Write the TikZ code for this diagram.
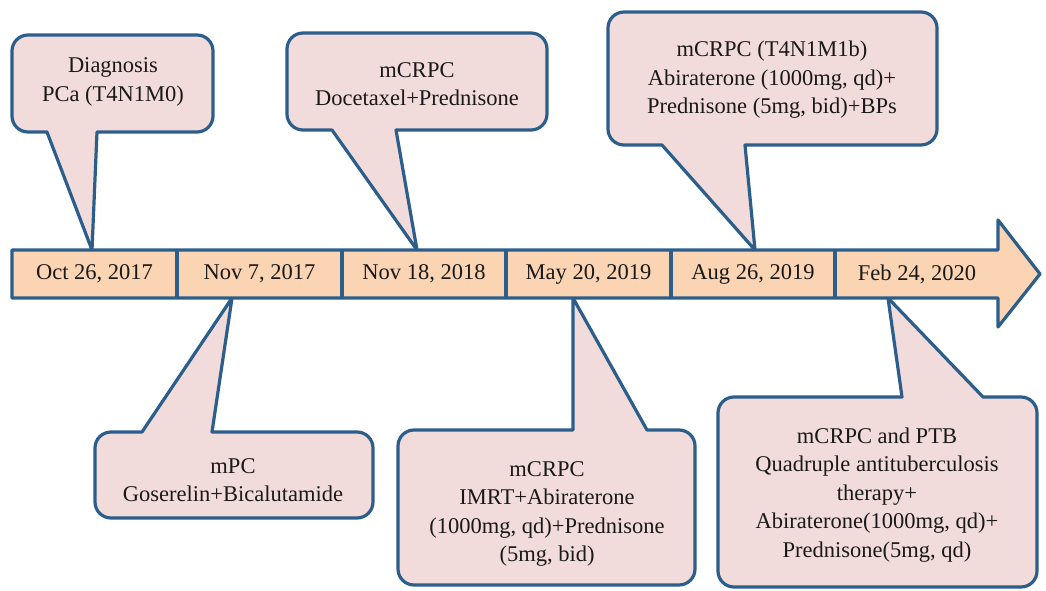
\documentclass[tikz,border=0pt]{standalone}
\usepackage{fontspec}
\setmainfont{Liberation Serif}
\definecolor{edge}{RGB}{44,94,140}
\definecolor{barfill}{RGB}{251,212,180}
\definecolor{callfill}{RGB}{242,220,219}
\definecolor{ink}{RGB}{25,25,25}
\begin{document}
\begin{tikzpicture}[x=1pt,y=-1pt,
  callout/.style={draw=edge,fill=callfill,line width=3.2pt,line join=round},
  timebar/.style={draw=edge,fill=barfill,line width=3.2pt,line join=round},
  divider/.style={draw=edge,line width=3.2pt},
  txt/.style={text=ink,align=center,font=\fontsize{22.5}{28.5}\selectfont,inner sep=0pt},
  datetxt/.style={text=ink,font=\fontsize{22.5}{27}\selectfont,inner sep=0pt}]
\useasboundingbox[fill=white] (0,0) rectangle (1046,591);

% ---- top callouts (pointer at bottom)
% 1 Diagnosis: L=12 T=35 R=213 B=132
\draw[callout] (28,35) -- (197,35) arc[start angle=90,end angle=0,radius=16pt] -- (213,116) arc[start angle=0,end angle=-90,radius=16pt] -- (97,132) -- (92,250) -- (47,132) -- (28,132) arc[start angle=270,end angle=180,radius=16pt] -- (12,51) arc[start angle=180,end angle=90,radius=16pt] -- cycle;
% 2 Docetaxel: L=287 T=33 R=547 B=130
\draw[callout] (303,33) -- (531,33) arc[start angle=90,end angle=0,radius=16pt] -- (547,114) arc[start angle=0,end angle=-90,radius=16pt] -- (396,130) -- (417,250) -- (332,130) -- (303,130) arc[start angle=270,end angle=180,radius=16pt] -- (287,49) arc[start angle=180,end angle=90,radius=16pt] -- cycle;
% 3 T4N1M1b: L=608 T=12 R=937 B=145
\draw[callout] (624,12) -- (921,12) arc[start angle=90,end angle=0,radius=16pt] -- (937,129) arc[start angle=0,end angle=-90,radius=16pt] -- (745,145) -- (755,250) -- (662,145) -- (624,145) arc[start angle=270,end angle=180,radius=16pt] -- (608,28) arc[start angle=180,end angle=90,radius=16pt] -- cycle;

% ---- bottom callouts (pointer at top)
% 4 mPC: L=95 T=432 R=373 B=518
\draw[callout] (111,432) -- (142,432) -- (232,298) -- (212,432) -- (357,432) arc[start angle=90,end angle=0,radius=16pt] -- (373,502) arc[start angle=0,end angle=-90,radius=16pt] -- (111,518) arc[start angle=270,end angle=180,radius=16pt] -- (95,448) arc[start angle=180,end angle=90,radius=16pt] -- cycle;
% 5 IMRT: L=398 T=430 R=695 B=585
\draw[callout] (414,430) -- (573,430) -- (573,298) -- (647,430) -- (679,430) arc[start angle=90,end angle=0,radius=16pt] -- (695,569) arc[start angle=0,end angle=-90,radius=16pt] -- (414,585) arc[start angle=270,end angle=180,radius=16pt] -- (398,446) arc[start angle=180,end angle=90,radius=16pt] -- cycle;
% 6 PTB: L=718 T=397 R=1037 B=587
\draw[callout] (734,397) -- (902,397) -- (888,298) -- (983,397) -- (1021,397) arc[start angle=90,end angle=0,radius=16pt] -- (1037,571) arc[start angle=0,end angle=-90,radius=16pt] -- (734,587) arc[start angle=270,end angle=180,radius=16pt] -- (718,413) arc[start angle=180,end angle=90,radius=16pt] -- cycle;

% ---- timeline bar with arrow head
\draw[timebar] (12,250) -- (998,250) -- (998,220) -- (1040,274) -- (998,327) -- (998,298) -- (12,298) -- cycle;
\foreach \x in {177,342,506,671,835} \draw[divider] (\x,250) -- (\x,298);

\node[datetxt] (d1) at (94.5,274) {Oct 26, 2017};
\node[datetxt] (d2) at (259.5,274) {Nov 7, 2017};
\node[datetxt] (d3) at (424,274) {Nov 18, 2018};
\node[datetxt] (d4) at (588.5,274) {May 20, 2019};
\node[datetxt] (d5) at (753,274) {Aug 26, 2019};
\node[datetxt] (d6) at (917,274) {Feb 24, 2020};

% ---- callout texts
\node[txt] (c1) at (113,82) {Diagnosis\\PCa (T4N1M0)};
\node[txt] (c2) at (417,84) {mCRPC\\Docetaxel+Prednisone};
\node[txt] (c3) at (772,80) {mCRPC (T4N1M1b)\\Abiraterone (1000mg, qd)+\\Prednisone (5mg, bid)+BPs};
\node[txt] (c4) at (233,480) {mPC\\Goserelin+Bicalutamide};
\node[txt] (c5) at (547,514) {mCRPC\\IMRT+Abiraterone\\(1000mg, qd)+Prednisone\\(5mg, bid)};
\node[txt] (c6) at (877,495) {mCRPC and PTB\\Quadruple antituberculosis\\therapy+\\Abiraterone(1000mg, qd)+\\Prednisone(5mg, qd)};
\end{tikzpicture}
\end{document}
